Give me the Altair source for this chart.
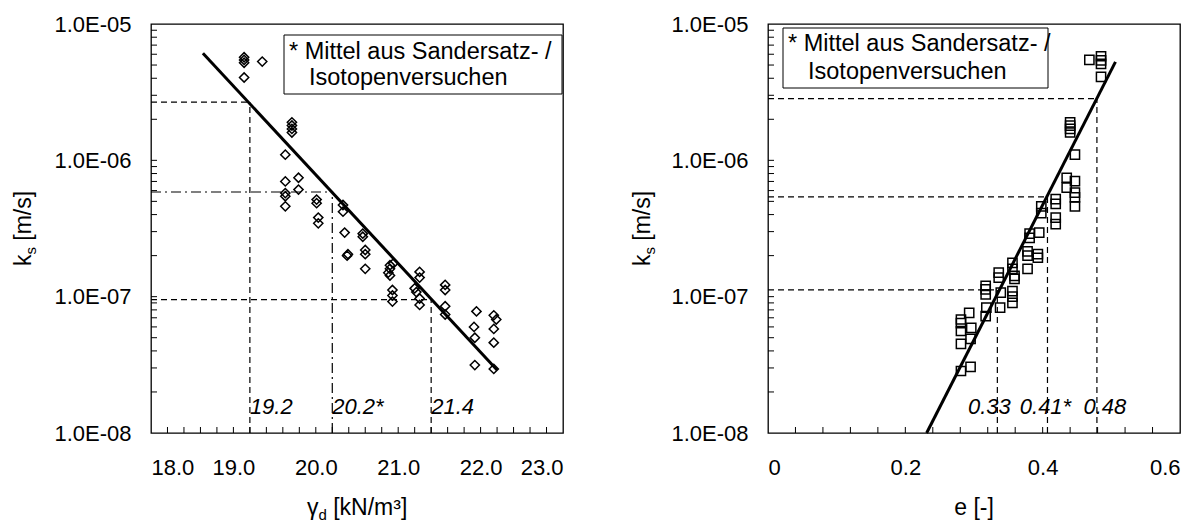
import altair as alt
import pandas as pd

# ---------------- data ----------------
# left panel: dry unit weight gamma_d [kN/m3] vs permeability k_s [m/s]
gd_g = [19.13, 19.13, 19.13, 19.13, 19.35,
        19.71, 19.71, 19.71, 19.71,
        19.63, 19.63, 19.79, 19.79, 19.63, 19.63, 19.63,
        20.01, 20.01, 20.03, 20.03,
        20.33, 20.33, 20.35, 20.39, 20.38,
        20.57, 20.57, 20.60, 20.60, 20.60,
        20.90, 20.90, 20.88, 20.90, 20.94,
        20.93, 20.93, 20.93,
        21.20, 21.22, 21.26, 21.26, 21.26, 21.26,
        21.57, 21.57, 21.57, 21.57,
        21.95, 21.92, 21.93, 21.93,
        22.16, 22.19, 22.16, 22.16, 22.16]
gd_k = [5.7e-6, 5.45e-6, 5.2e-6, 4.05e-6, 5.3e-6,
        1.9e-6, 1.8e-6, 1.7e-6, 1.6e-6,
        1.1e-6, 7.0e-7, 7.45e-7, 6.1e-7, 5.75e-7, 5.45e-7, 4.6e-7,
        5.15e-7, 4.85e-7, 3.8e-7, 3.45e-7,
        4.7e-7, 4.2e-7, 2.95e-7, 2.05e-7, 2.0e-7,
        2.9e-7, 2.75e-7, 2.2e-7, 2.05e-7, 1.6e-7,
        1.7e-7, 1.6e-7, 1.5e-7, 1.43e-7, 1.75e-7,
        1.12e-7, 1.02e-7, 9.2e-8,
        1.15e-7, 1.08e-7, 1.52e-7, 1.38e-7, 9.7e-8, 8.7e-8,
        1.22e-7, 1.12e-7, 8.5e-8, 7.4e-8,
        7.8e-8, 6.0e-8, 5.0e-8, 3.15e-8,
        7.3e-8, 6.8e-8, 5.8e-8, 4.6e-8, 2.95e-8]

# right panel: void ratio e [-] vs k_s [m/s]
e_e = [0.468, 0.485, 0.485, 0.485, 0.485,
       0.440, 0.440, 0.440, 0.440,
       0.447, 0.435, 0.435, 0.447, 0.447, 0.447, 0.447,
       0.419, 0.419, 0.419, 0.419,
       0.398, 0.398,
       0.381, 0.381, 0.395,
       0.378, 0.378, 0.393, 0.393, 0.378,
       0.356, 0.356, 0.359, 0.359,
       0.336, 0.336,
       0.356, 0.356, 0.356,
       0.339, 0.338,
       0.317, 0.317, 0.317, 0.318, 0.317,
       0.293, 0.281, 0.281, 0.296, 0.281, 0.295, 0.281, 0.295, 0.281]
e_k = [5.45e-6, 5.8e-6, 5.4e-6, 5.1e-6, 4.1e-6,
       1.9e-6, 1.8e-6, 1.7e-6, 1.6e-6,
       1.1e-6, 7.45e-7, 6.3e-7, 7.05e-7, 5.8e-7, 5.35e-7, 4.6e-7,
       5.2e-7, 4.8e-7, 3.8e-7, 3.4e-7,
       4.6e-7, 4.1e-7,
       2.9e-7, 2.7e-7, 2.95e-7,
       2.15e-7, 2.0e-7, 2.05e-7, 1.93e-7, 1.6e-7,
       1.77e-7, 1.6e-7, 1.42e-7, 1.35e-7,
       1.5e-7, 1.38e-7,
       1.1e-7, 1.0e-7, 9.0e-8,
       1.07e-7, 8.3e-8,
       1.2e-7, 1.13e-7, 1.04e-7, 8.3e-8, 7.2e-8,
       7.6e-8, 6.8e-8, 6.4e-8, 5.9e-8, 5.6e-8, 4.9e-8, 4.5e-8, 3.05e-8, 2.85e-8]

# regression lines (end points)
fit_left_g = [18.63, 22.20]
fit_left_k = [6.1e-6, 2.9e-8]
fit_right_e = [0.231, 0.506]
fit_right_k = [1.0e-8, 5.28e-6]

# read-off lines
ref_left_g = [19.2, 20.2, 21.4]
ref_left_k = [2.67e-6, 5.86e-7, 9.5e-8]
ref_left_label = ["19.2", "20.2*", "21.4"]
ref_left_style = ["dash", "dashdot", "dash"]

ref_right_e = [0.334, 0.407, 0.479]
ref_right_k = [1.12e-7, 5.4e-7, 2.84e-6]
ref_right_label = ["0.33", "0.41*", "0.48"]
ref_right_dx = [-8, -2, 8]

# axes
y_label_values = [1e-8, 1e-7, 1e-6, 1e-5]
y_tick_values = [2e-8, 3e-8, 4e-8, 5e-8, 6e-8, 7e-8, 8e-8, 9e-8, 1e-7,
                 2e-7, 3e-7, 4e-7, 5e-7, 6e-7, 7e-7, 8e-7, 9e-7, 1e-6,
                 2e-6, 3e-6, 4e-6, 5e-6, 6e-6, 7e-6, 8e-6, 9e-6]
x_left_labels = [18.0, 19.0, 20.0, 21.0, 22.0, 23.0]
x_left_ticks = [18.2, 18.4, 18.6, 18.8, 19.0, 19.2, 19.4, 19.6, 19.8, 20.0,
                20.2, 20.4, 20.6, 20.8, 21.0, 21.2, 21.4, 21.6, 21.8, 22.0,
                22.2, 22.4, 22.6, 22.8]
x_right_labels = [0, 0.2, 0.4, 0.6]
x_right_ticks = [0.04, 0.08, 0.12, 0.16, 0.2, 0.24, 0.28, 0.32, 0.36, 0.4,
                 0.44, 0.48, 0.52, 0.56]
legend_lines = ["* Mittel aus Sandersatz- /", "Isotopenversuchen"]

# ---------------- chart ----------------
W, H = 412, 409
FONT = "Liberation Sans"
TICK = 6
LABEL_SIZE = 22

yscale = alt.Scale(type="log", domain=[1e-8, 1e-5], nice=False)
yaxis = alt.Axis(values=y_label_values, labelExpr="'1.0E-0' + format(-round(log(datum.value)/LN10), 'd')",
                 ticks=False, domain=False, grid=False, title=None, labelPadding=20,
                 labelFont=FONT, labelFontSize=LABEL_SIZE, labelColor="black")


def text_layer(txt, x, y, size=23, align="left", dx=0, dy=0, angle=0, style="normal"):
    return alt.Chart(pd.DataFrame({"t": [txt]})).mark_text(
        font=FONT, fontSize=size, align=align, baseline="alphabetic", dx=dx, dy=dy,
        angle=angle, fontStyle=style, color="black"
    ).encode(x=alt.value(x), y=alt.value(y), text="t:N")


def panel(xs, ys, xscale, xaxis, shape, fx, fk, hx0, hlines_x, hlines_k, styles, labels, label_dx,
          xticks, legend_box, legend_pos, ytitle_x, xtitle_parts):
    pts = pd.DataFrame({"x": xs, "k": ys})
    X = lambda f: alt.X(f, type="quantitative", scale=xscale, axis=xaxis)
    Y = lambda f: alt.Y(f, type="quantitative", scale=yscale, axis=yaxis)

    layers = []
    # read-off lines
    for style in ["dash", "dashdot"]:
        sel = [i for i, s in enumerate(styles) if s == style]
        if not sel:
            continue
        dash = [6, 4] if style == "dash" else [10, 4, 2, 4]
        hdf = pd.DataFrame({"x0": [hx0] * len(sel), "x1": [hlines_x[i] for i in sel],
                            "k": [hlines_k[i] for i in sel]})
        vdf = pd.DataFrame({"x": [hlines_x[i] for i in sel], "k0": [1e-8] * len(sel),
                            "k1": [hlines_k[i] for i in sel]})
        layers.append(alt.Chart(hdf).mark_rule(color="black", strokeWidth=1.2, strokeDash=dash).encode(
            x=X("x0"), x2="x1", y=Y("k")))
        layers.append(alt.Chart(vdf).mark_rule(color="black", strokeWidth=1.2, strokeDash=dash).encode(
            x=X("x"), y=Y("k0"), y2="k1"))
    # regression line
    layers.append(alt.Chart(pd.DataFrame({"x": fx, "k": fk})).mark_line(color="black", strokeWidth=3).encode(
        x=X("x"), y=Y("k")))
    # data points
    layers.append(alt.Chart(pts).mark_point(shape=shape, filled=False, color="black", size=85,
                                            strokeWidth=1.5, opacity=1).encode(x=X("x"), y=Y("k")))
    # annotation numbers
    for i, lab in enumerate(labels):
        layers.append(alt.Chart(pd.DataFrame({"x": [hlines_x[i]], "t": [lab]})).mark_text(
            font=FONT, fontSize=22, fontStyle="italic", align=("left" if label_dx is None else "center"),
            baseline="alphabetic", dx=(0 if label_dx is None else label_dx[i]), color="black"
        ).encode(x=X("x"), y=alt.value(H - 19), text="t:N"))
    # inward ticks
    layers.append(alt.Chart(pd.DataFrame({"k": y_tick_values})).mark_rule(color="black", strokeWidth=1).encode(
        y=Y("k"), x=alt.value(0), x2=alt.value(TICK)))
    layers.append(alt.Chart(pd.DataFrame({"x": xticks})).mark_rule(color="black", strokeWidth=1).encode(
        x=X("x"), y=alt.value(H), y2=alt.value(H - TICK)))
    # legend box
    bx1, by1, bx2, by2 = legend_box
    layers.append(alt.Chart(pd.DataFrame({"t": ["box"]})).mark_rect(
        fill="white", stroke="black", strokeWidth=1).encode(
        x=alt.value(bx1), x2=alt.value(bx2), y=alt.value(by1), y2=alt.value(by2)))
    (l1x, l1y), (l2x, l2y) = legend_pos
    layers.append(text_layer(legend_lines[0], l1x, l1y, size=23.5))
    layers.append(text_layer(legend_lines[1], l2x, l2y, size=23.5))
    # y title  k_s [m/s]
    cy = H / 2
    layers.append(text_layer("k", ytitle_x, cy, angle=270, dx=-37.6))
    layers.append(text_layer("s", ytitle_x, cy, size=15, angle=270, dx=-26.1, dy=5))
    layers.append(text_layer("[m/s]", ytitle_x, cy, angle=270, dx=-12.2))
    # x title
    for (txt, size, dx, dy) in xtitle_parts:
        layers.append(text_layer(txt, W / 2, H + 82, size=size, dx=dx, dy=dy))
    return alt.layer(*layers).properties(width=W, height=H)


xs_left = alt.Scale(domain=[18, 23], nice=False, zero=False)
xs_right = alt.Scale(domain=[0, 0.6], nice=False, zero=False)
xaxis_left = alt.Axis(values=x_left_labels, format=".1f", ticks=False, domain=False, grid=False,
                      title=None, labelPadding=24, labelFont=FONT, labelFontSize=LABEL_SIZE,
                      labelColor="black")
xaxis_right = alt.Axis(values=x_right_labels, format="~g", ticks=False, domain=False, grid=False,
                       title=None, labelPadding=24, labelFont=FONT, labelFontSize=LABEL_SIZE,
                       labelColor="black")

left = panel(gd_g, gd_k, xs_left, xaxis_left, "diamond", fit_left_g, fit_left_k, 18.0,
             ref_left_g, ref_left_k, ref_left_style, ref_left_label, None,
             x_left_ticks, (133, 11, 411, 70), ((138, 35), (158, 61)), -120,
             [("γ", 23, -50, 0), ("d", 15, -38.5, 5), ("[kN/m³]", 23, -23.8, 0)])
right = panel(e_e, e_k, xs_right, xaxis_right, "square", fit_right_e, fit_right_k, 0.0,
              ref_right_e, ref_right_k, ["dash", "dash", "dash"], ref_right_label, ref_right_dx,
              x_right_ticks, (15, 4, 280, 64), ((20, 27), (40, 55)), -118,
              [("e [-]", 23, -19.8, 0)])

chart = alt.hconcat(left, right, spacing=67).properties(
    padding={"left": 4, "top": 4, "right": 2, "bottom": 0},
    background="white"
).configure_view(stroke="black", strokeWidth=1.3)

chart.save("out.html", embed_options={"renderer": "svg", "actions": False})
